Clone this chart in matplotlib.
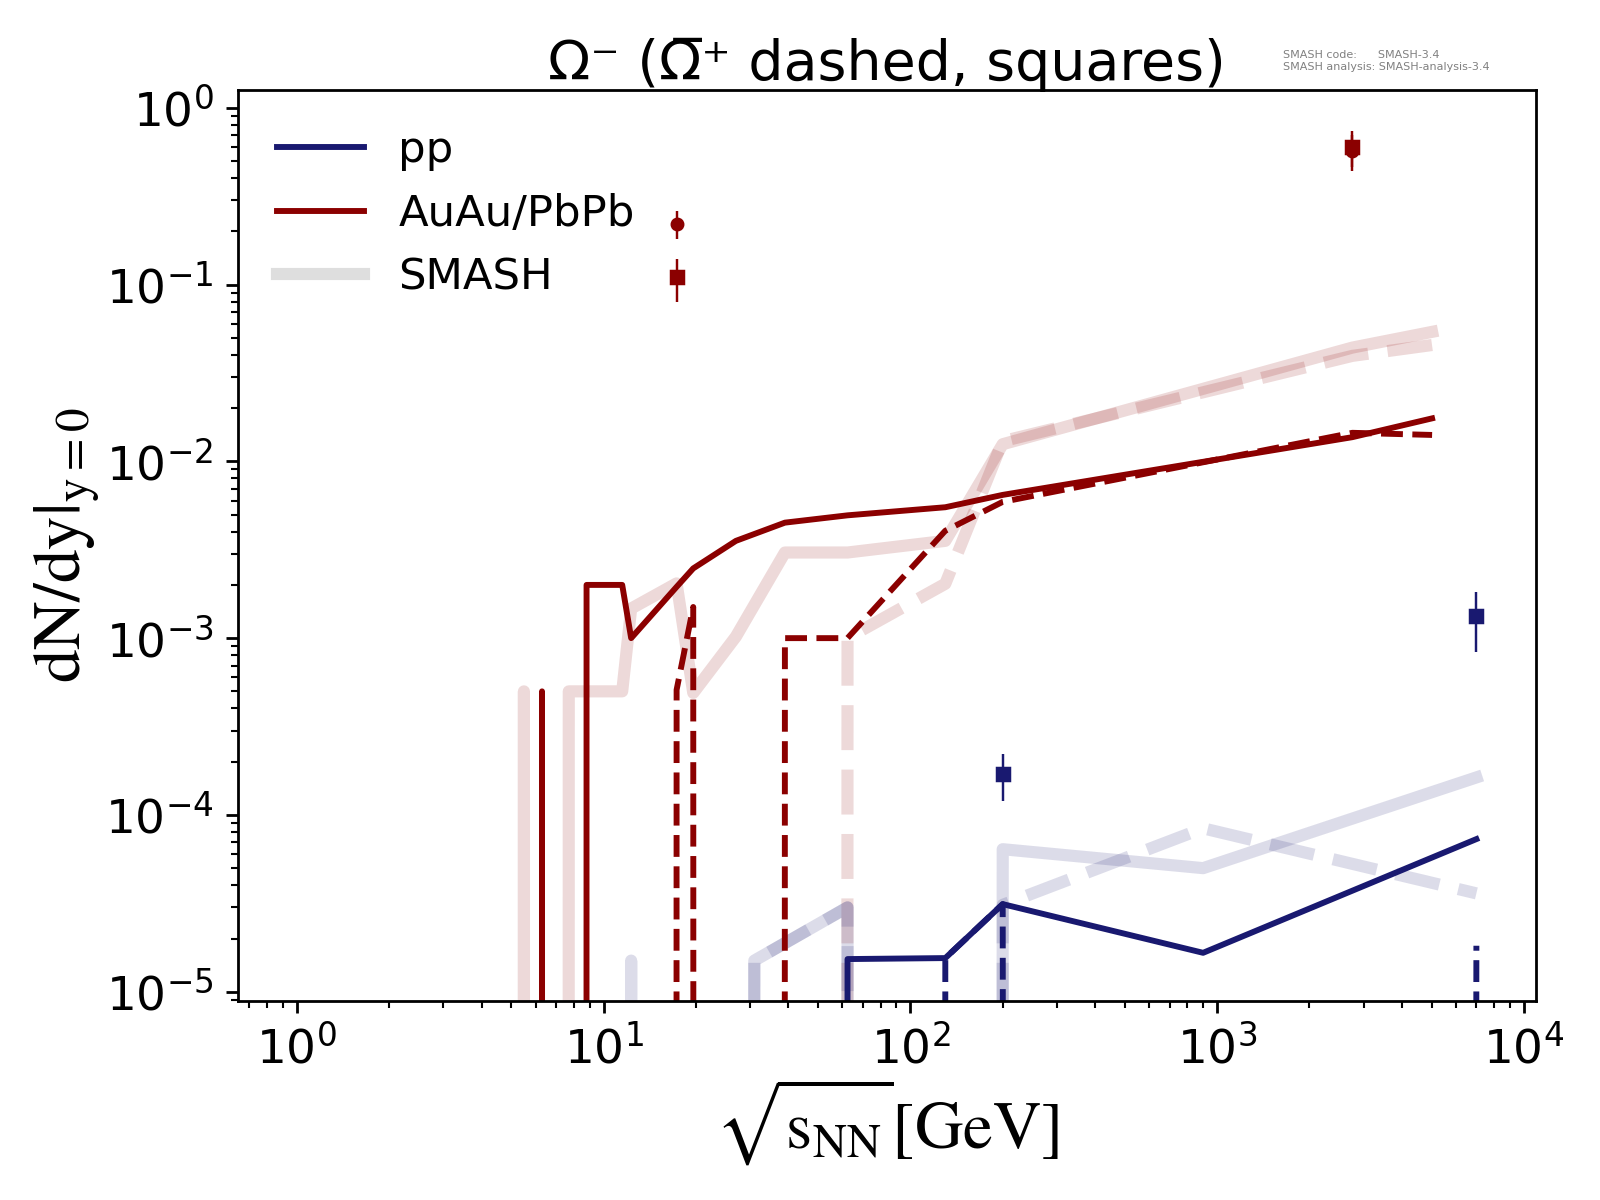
import numpy as np
import matplotlib.pyplot as plt
from matplotlib.lines import Line2D

# collision energies sqrt(s_NN) [GeV]
aa_sqrts = [4.9, 5.5, 6.3, 7.7, 8.8, 11.5, 12.3, 17.3, 19.6, 27.0, 39.0, 62.4, 130.0, 200.0, 2760.0, 5020.0]
pp_sqrts = [6.3, 12.3, 17.3, 31.0, 62.4, 130.0, 200.0, 900.0, 7000.0]

# AuAu/PbPb, thin lines
aa_omega = [0, 0, 5.0e-4, 0, 2.0e-3, 2.0e-3, 1.0e-3, 1.95e-3, 2.48e-3, 3.55e-3, 4.5e-3, 4.95e-3, 5.5e-3, 6.46e-3, 1.37e-2, 1.75e-2]
aa_antiomega = [0, 0, 0, 0, 0, 0, 0, 5.1e-4, 1.5e-3, 0, 1.0e-3, 1.0e-3, 4.05e-3, 5.9e-3, 1.45e-2, 1.41e-2]
# AuAu/PbPb, SMASH (thick, faded)
aa_omega_smash = [0, 5.0e-4, 0, 5.0e-4, 5.0e-4, 5.0e-4, 1.47e-3, 2.04e-3, 4.9e-4, 1.02e-3, 3.05e-3, 3.05e-3, 3.55e-3, 1.25e-2, 4.4e-2, 5.4e-2]
aa_antiomega_smash = [0, 0, 0, 0, 0, 0, 0, 0, 0, 0, 0, 1.0e-3, 2.03e-3, 1.3e-2, 3.95e-2, 4.55e-2]

# pp, thin lines
pp_omega = [0, 0, 0, 0, 1.53e-5, 1.55e-5, 3.13e-5, 1.66e-5, 7.3e-5]
pp_antiomega = [0, 0, 0, 0, 0, 1.55e-5, 3.13e-5, 0, 1.82e-5]
# pp, SMASH
pp_omega_smash = [0, 1.5e-5, 0, 1.5e-5, 3.0e-5, 0, 6.4e-5, 5.0e-5, 1.63e-4]
pp_antiomega_smash = [0, 0, 0, 1.5e-5, 3.0e-5, 0, 3.1e-5, 8.4e-5, 3.6e-5]

# experimental points
aa_exp_x = [17.3, 2760.0]
aa_exp_omega = [0.22, 0.57]
aa_exp_omega_err = [0.04, 0.13]
aa_exp_anti = [0.11, 0.60]
aa_exp_anti_err = [0.03, 0.14]

pp_exp_x = [200.0, 7000.0]
pp_exp_anti = [1.7e-4, 1.33e-3]
pp_exp_anti_err = [0.5e-4, 0.5e-3]

c_pp = '#191970'
c_aa = '#8b0000'

fig = plt.figure(figsize=(6.4, 4.8), dpi=250)
ax = fig.add_axes([0.1486, 0.1656, 0.8114, 0.7594])
ax.set_xscale('log')
ax.set_yscale('log')

# SMASH curves
ax.plot(aa_sqrts, aa_omega_smash, color=c_aa, alpha=0.15, lw=3.5)
ax.plot(aa_sqrts, aa_antiomega_smash, color=c_aa, alpha=0.15, lw=3.5, ls='--')
ax.plot(pp_sqrts, pp_omega_smash, color=c_pp, alpha=0.15, lw=3.5)
ax.plot(pp_sqrts, pp_antiomega_smash, color=c_pp, alpha=0.15, lw=3.5, ls='--')

# reference curves
ax.plot(aa_sqrts, aa_omega, color=c_aa, lw=1.7)
ax.plot(aa_sqrts, aa_antiomega, color=c_aa, lw=1.7, ls='--')
ax.plot(pp_sqrts, pp_omega, color=c_pp, lw=1.7)
ax.plot(pp_sqrts, pp_antiomega, color=c_pp, lw=1.7, ls='--')

# data
ax.errorbar(aa_exp_x, aa_exp_omega, yerr=aa_exp_omega_err, fmt='o', color=c_aa, ms=3, elinewidth=0.7)
ax.errorbar(aa_exp_x, aa_exp_anti, yerr=aa_exp_anti_err, fmt='s', color=c_aa, ms=3.5, elinewidth=0.7)
ax.errorbar(pp_exp_x, pp_exp_anti, yerr=pp_exp_anti_err, fmt='s', color=c_pp, ms=3.5, elinewidth=0.7)

ax.set_xlim(0.642, 10950)
ax.set_ylim(8.83e-6, 1.26)
ax.tick_params(labelsize=13.5)

ax.set_xlabel(r'$\sqrt{\mathrm{s_{NN}}}[\mathrm{GeV}]$', fontsize=19.3, math_fontfamily='stix', labelpad=1)
ax.set_ylabel(r'$\mathrm{dN/dy|_{y=0}}$', fontsize=19.3, math_fontfamily='stix', labelpad=1)

handles = [Line2D([], [], color=c_pp, lw=1.7),
           Line2D([], [], color=c_aa, lw=1.7),
           Line2D([], [], color='#dedede', lw=3.5)]
ax.legend(handles, ['pp', 'AuAu/PbPb', 'SMASH'], loc='upper left', frameon=False, fontsize=12.5)

fig.text(0.5543, 0.9333, 'Ω\u207B (Ω\u0305\u207A dashed, squares)', fontsize=16, ha='center', va='baseline')
fig.text(0.802, 0.958, 'SMASH code:      SMASH-3.4\nSMASH analysis: SMASH-analysis-3.4',
         fontsize=3.2, color='gray', ha='left', va='top')

fig.savefig('out.png', dpi=250)
